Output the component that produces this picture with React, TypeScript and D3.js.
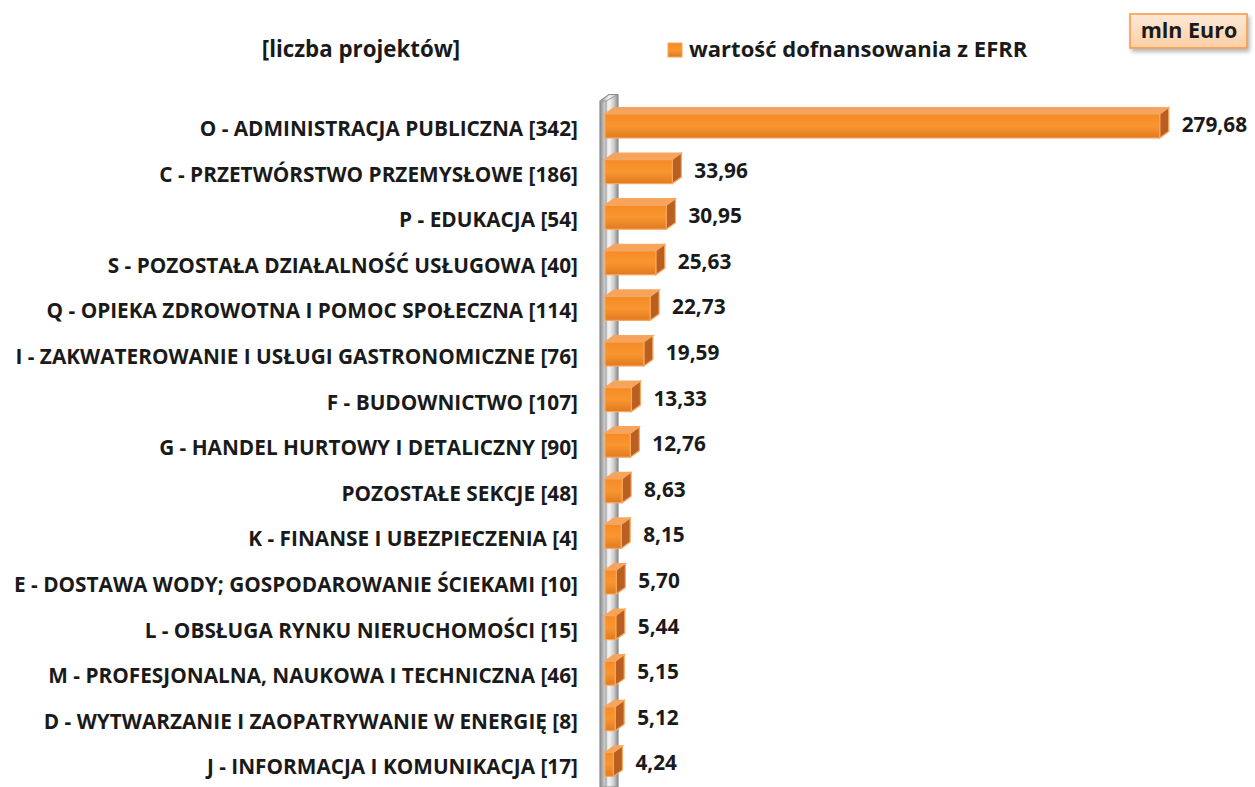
import React from 'react';
import * as d3 from 'd3';

const categories = [
  'O - ADMINISTRACJA PUBLICZNA [342]',
  'C - PRZETWÓRSTWO PRZEMYSŁOWE [186]',
  'P - EDUKACJA [54]',
  'S - POZOSTAŁA DZIAŁALNOŚĆ USŁUGOWA [40]',
  'Q - OPIEKA ZDROWOTNA I POMOC SPOŁECZNA [114]',
  'I - ZAKWATEROWANIE I USŁUGI GASTRONOMICZNE [76]',
  'F - BUDOWNICTWO [107]',
  'G - HANDEL HURTOWY I DETALICZNY [90]',
  'POZOSTAŁE SEKCJE [48]',
  'K - FINANSE I UBEZPIECZENIA [4]',
  'E - DOSTAWA WODY; GOSPODAROWANIE ŚCIEKAMI [10]',
  'L - OBSŁUGA RYNKU NIERUCHOMOŚCI [15]',
  'M - PROFESJONALNA, NAUKOWA I TECHNICZNA [46]',
  'D - WYTWARZANIE I ZAOPATRYWANIE W ENERGIĘ [8]',
  'J - INFORMACJA I KOMUNIKACJA [17]',
];

const values = [279.68, 33.96, 30.95, 25.63, 22.73, 19.59, 13.33, 12.76, 8.63, 8.15, 5.7, 5.44, 5.15, 5.12, 4.24];

const W = 1255;
const H = 787;
const FONT = '"Open Sans", "Noto Sans", sans-serif';
const fmt = (v: number) => v.toFixed(2).replace('.', ',');

export default function App() {
  const x = d3.scaleLinear().domain([0, 300]).range([605, 605 + 595]);
  const y = d3.scaleBand<string>().domain(categories).range([103.2, 787.2]).paddingInner(0.474).paddingOuter(0.237);
  const dx = 9;
  const dy = -6.5;
  const x0 = x(0);

  return (
    <svg width={W} height={H} style={{ position: 'absolute', left: 0, top: 0, background: '#fff' }} fontFamily={FONT}>
      <defs>
        <linearGradient id="front" x1="0" y1="0" x2="0" y2="1">
          <stop offset="0%" stopColor="#f58a26" />
          <stop offset="50%" stopColor="#f9962f" />
          <stop offset="100%" stopColor="#e07a20" />
        </linearGradient>
        <linearGradient id="wall" x1="0" y1="0" x2="1" y2="0">
          <stop offset="0%" stopColor="#8e8e8e" />
          <stop offset="25%" stopColor="#c8c8c8" />
          <stop offset="50%" stopColor="#f4f4f4" />
          <stop offset="75%" stopColor="#d0d0d0" />
          <stop offset="100%" stopColor="#8e8e8e" />
        </linearGradient>
        <linearGradient id="box" x1="0" y1="0" x2="0" y2="1">
          <stop offset="0%" stopColor="#fde9d6" />
          <stop offset="100%" stopColor="#fbcfa5" />
        </linearGradient>
        <filter id="sh" x="-20%" y="-20%" width="140%" height="160%">
          <feDropShadow dx="2" dy="3" stdDeviation="2" floodColor="#000" floodOpacity="0.3" />
        </filter>
      </defs>

      {/* axis wall */}
      <g>
        <polygon points={`600,${H} 600,101 ${600 + dx},${101 + dy} 618,${101 + dy} 618,${H}`} fill="url(#wall)" stroke="#8c8c8c" strokeWidth={1.2} />
        <line x1={606} y1={101} x2={606} y2={H} stroke="#9a9a9a" strokeWidth={1} />
        <line x1={600} y1={101} x2={606} y2={101} stroke="#9a9a9a" strokeWidth={1} />
        <line x1={606} y1={101} x2={618} y2={101 + dy} stroke="#9a9a9a" strokeWidth={1} />
      </g>

      {/* bars */}
      {categories.map((c, i) => {
        const top = y(c)!;
        const h = y.bandwidth();
        const xr = x(values[i]);
        const cy = top + h / 2;
        return (
          <g key={c}>
            <polygon points={`${x0},${top} ${x0 + dx},${top + dy} ${xr + dx},${top + dy} ${xr},${top}`} fill="#f4a45c" stroke="#f9a65c" strokeWidth={1.2} />
            <polygon points={`${xr},${top} ${xr + dx},${top + dy} ${xr + dx},${top + h + dy} ${xr},${top + h}`} fill="#b95f22" stroke="#f9a65c" strokeWidth={1.2} />
            <rect x={x0} y={top} width={xr - x0} height={h} fill="url(#front)" stroke="#f9a65c" strokeWidth={1.2} />
            <text x={xr + dx + 13} y={cy + 0.5} dominantBaseline="middle" fontSize={20.8} fontWeight="bold" fill="#1a1a1a">{fmt(values[i])}</text>
            <text x={578} y={cy + 4.5} dominantBaseline="middle" textAnchor="end" fontSize={20.8} fontWeight="bold" fill="#1a1a1a">{c}</text>
          </g>
        );
      })}

      {/* headings and legend */}
      <text x={361} y={51} dominantBaseline="middle" textAnchor="middle" fontSize={22.3} fontWeight="bold" fill="#1a1a1a">[liczba projektów]</text>
      <rect x={668} y={43} width={14} height={14} fill="url(#front)" stroke="#f9a65c" strokeWidth={1} />
      <text x={689} y={51} dominantBaseline="middle" fontSize={22} fontWeight="bold" fill="#1a1a1a">wartość dofnansowania z EFRR</text>

      <rect x={1130} y={14} width={117} height={34} fill="url(#box)" stroke="#f79646" strokeWidth={1.5} filter="url(#sh)" />
      <text x={1189} y={32} dominantBaseline="middle" textAnchor="middle" fontSize={21.5} fontWeight="bold" fill="#1a1a1a">mln Euro</text>
    </svg>
  );
}
